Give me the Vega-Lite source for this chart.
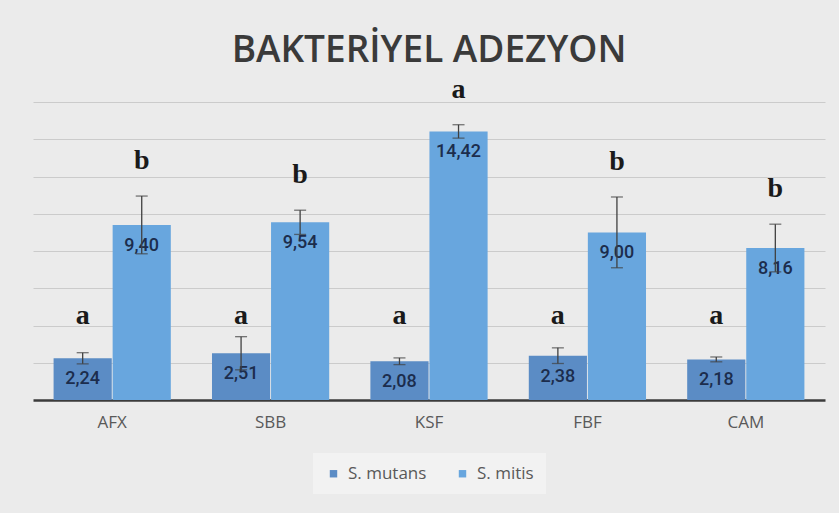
{
  "$schema": "https://vega.github.io/schema/vega-lite/v6.json",
  "width": 792,
  "height": 298,
  "autosize": "none",
  "padding": {"left": 33, "top": 102, "right": 14, "bottom": 113},
  "background": "#ebebeb",
  "title": {"text": "BAKTERİYEL ADEZYON", "font": "Open Sans", "fontSize": 37, "fontWeight": 600, "color": "#3a3a3a", "anchor": "middle", "offset": 6},
  "config": {
    "view": {"stroke": null},
    "locale": {"number": {"decimal": ",", "thousands": ".", "grouping": [3], "currency": ["", " €"]}}
  },
  "data": {"values": [
    {"group": "AFX", "species": "S. mutans", "value": 2.24, "lo": 1.94, "hi": 2.54, "letter": "a"},
    {"group": "AFX", "species": "S. mitis", "value": 9.40, "lo": 7.85, "hi": 10.95, "letter": "b"},
    {"group": "SBB", "species": "S. mutans", "value": 2.51, "lo": 1.62, "hi": 3.40, "letter": "a"},
    {"group": "SBB", "species": "S. mitis", "value": 9.54, "lo": 8.89, "hi": 10.19, "letter": "b"},
    {"group": "KSF", "species": "S. mutans", "value": 2.08, "lo": 1.90, "hi": 2.26, "letter": "a"},
    {"group": "KSF", "species": "S. mitis", "value": 14.42, "lo": 14.06, "hi": 14.78, "letter": "a"},
    {"group": "FBF", "species": "S. mutans", "value": 2.38, "lo": 1.96, "hi": 2.80, "letter": "a"},
    {"group": "FBF", "species": "S. mitis", "value": 9.00, "lo": 7.10, "hi": 10.90, "letter": "b"},
    {"group": "CAM", "species": "S. mutans", "value": 2.18, "lo": 2.05, "hi": 2.31, "letter": "a"},
    {"group": "CAM", "species": "S. mitis", "value": 8.16, "lo": 6.88, "hi": 9.44, "letter": "b"}
  ]},
  "encoding": {
    "x": {
      "field": "group", "type": "nominal", "sort": ["AFX", "SBB", "KSF", "FBF", "CAM"],
      "scale": {"paddingInner": 0.26, "paddingOuter": 0.13},
      "axis": {"title": null, "labelAngle": 0, "ticks": false, "domain": true, "domainColor": "#3b3b3b", "domainWidth": 2.5, "labelFont": "Open Sans", "labelFontSize": 17, "labelColor": "#595959", "labelPadding": 14}
    },
    "xOffset": {"field": "species", "type": "nominal", "sort": ["S. mutans", "S. mitis"], "scale": {"paddingInner": 0.015}}
  },
  "layer": [
    {
      "mark": {"type": "bar"},
      "encoding": {
        "y": {"field": "value", "type": "quantitative", "scale": {"domain": [0, 16]},
              "axis": {"title": null, "labels": false, "ticks": false, "domain": false, "grid": true, "gridColor": "#cbcbcb", "gridWidth": 1, "values": [2, 4, 6, 8, 10, 12, 14, 16]}},
        "color": {"field": "species", "type": "nominal", "sort": ["S. mutans", "S. mitis"],
                  "scale": {"range": ["#5b8cc5", "#68a6de"]},
                  "legend": {"title": null, "orient": "none", "legendX": 280, "legendY": 351, "direction": "horizontal", "symbolType": "square", "symbolSize": 55, "symbolStrokeWidth": 0, "labelFont": "Open Sans", "labelFontSize": 17, "labelColor": "#595959", "columnPadding": 27, "labelOffset": 6, "padding": 12, "fillColor": "#f2f2f2"}}
      }
    },
    {
      "mark": {"type": "text", "baseline": "top", "dy": 12, "font": "Roboto", "fontSize": 18, "fontWeight": 500, "color": "#1c2d4d"},
      "encoding": {
        "y": {"field": "value", "type": "quantitative"},
        "text": {"field": "value", "type": "quantitative", "format": ".2f"}
      }
    },
    {
      "mark": {"type": "rule", "color": "#404040", "strokeWidth": 1.3},
      "encoding": {
        "y": {"field": "lo", "type": "quantitative"},
        "y2": {"field": "hi"}
      }
    },
    {
      "mark": {"type": "tick", "orient": "horizontal", "size": 12, "thickness": 1.3, "color": "#404040"},
      "encoding": {"y": {"field": "hi", "type": "quantitative"}}
    },
    {
      "mark": {"type": "tick", "orient": "horizontal", "size": 12, "thickness": 1.3, "color": "#404040"},
      "encoding": {"y": {"field": "lo", "type": "quantitative"}}
    },
    {
      "transform": [{"filter": "datum.species === 'S. mitis'"}],
      "mark": {"type": "text", "baseline": "alphabetic", "dy": -27, "font": "Liberation Serif", "fontSize": 28, "fontWeight": "bold", "color": "#1a1a1a"},
      "encoding": {
        "y": {"field": "hi", "type": "quantitative"},
        "text": {"field": "letter"}
      }
    },
    {
      "transform": [{"filter": "datum.species === 'S. mutans'"}],
      "mark": {"type": "text", "baseline": "alphabetic", "font": "Liberation Serif", "fontSize": 28, "fontWeight": "bold", "color": "#1a1a1a"},
      "encoding": {
        "y": {"datum": 4.07, "type": "quantitative"},
        "text": {"field": "letter"}
      }
    }
  ]
}
